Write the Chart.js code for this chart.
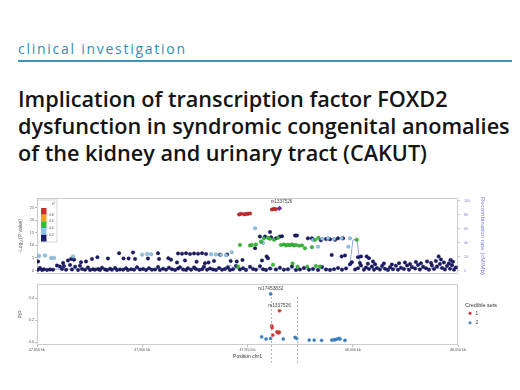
<!DOCTYPE html>
<html>
<head>
<meta charset="utf-8">
<script src="https://cdn.jsdelivr.net/npm/chart.js@4.4.1/dist/chart.umd.min.js"></script>
<style>
  html, body { margin: 0; padding: 0; background: #fff; }
  body { width: 520px; height: 390px; position: relative; overflow: hidden; font-family: "Open Sans", sans-serif; }
  #kicker { position: absolute; left: 18px; color: #2f8fb2; white-space: nowrap; }
  #rule { position: absolute; left: 18px; top: 60px; width: 494px; height: 2px; background: #3a95b8; }
  .tl { position: absolute; left: 18px; font-weight: 600; color: #141414; white-space: nowrap; }
  #top, #bot { position: absolute; left: 0; }
  #top { top: 190px; }
  #bot { top: 280px; }
</style>
</head>
<body>
<div id="kicker">clinical investigation</div>
<div id="rule"></div>
<div class="tl" id="t1">Implication of transcription factor FOXD2</div>
<div class="tl" id="t2">dysfunction in syndromic congenital anomalies</div>
<div class="tl" id="t3">of the kidney and urinary tract (CAKUT)</div>
<canvas id="top" width="520" height="90"></canvas>
<canvas id="bot" width="520" height="100"></canvas>
<script>
// axis ticks
const xTicks = [47850, 47900, 47950, 48000, 48050];
const logpTicks = [0, 5, 10, 15, 20, 25];
const recTicks = [0, 20, 40, 60, 80, 100];
const pipTicks = [0, 0.2, 0.4];
const r2Labels = ["0.8", "0.6", "0.4", "0.2"];
const credLabels = ["1", "2"];

// [position kb, -log10 P] by LD r2 band
const snpNavy = [
  [47850.5,0.3],[47851.4,1.0],[47852.4,0.2],[47853.3,0.5],[47854.8,0.2],[47856.2,0.4],[47857.6,0.3],[47859.5,2.0],
  [47860.9,1.6],[47861.9,0.6],[47862.8,1.8],[47863.8,0.3],[47865.7,2.2],[47866.6,0.4],[47868.1,1.5],[47869.5,0.2],
  [47870.4,1.9],[47871.4,0.6],[47872.8,0.3],[47874.2,1.2],[47875.2,0.2],[47876.6,0.5],[47877.6,0.3],[47879.0,0.6],
  [47879.9,0.2],[47880.9,1.1],[47882.3,0.4],[47883.3,0.2],[47884.7,0.7],[47885.6,0.3],[47887.1,1.0],[47888.0,0.2],
  [47889.4,0.4],[47890.9,0.3],[47892.3,0.9],[47893.2,0.2],[47894.7,0.5],[47896.1,0.3],[47897.5,1.3],[47898.9,0.4],
  [47900.4,0.6],[47901.8,0.2],[47903.2,0.9],[47904.6,0.3],[47906.1,0.4],[47907.5,1.4],[47908.4,0.2],[47909.9,0.7],
  [47911.3,0.3],[47912.7,1.1],[47914.1,0.5],[47915.6,0.2],[47917.0,0.8],[47917.9,1.3],[47919.4,0.4],[47920.8,0.2],
  [47921.7,0.9],[47923.2,0.3],[47924.6,1.2],[47925.5,0.6],[47927.0,0.2],[47928.4,0.5],[47929.3,1.5],[47930.8,0.3],
  [47932.2,0.8],[47933.6,0.4],[47935.0,0.2],[47936.5,1.0],[47937.9,0.3],[47939.3,0.6],[47940.7,1.2],[47941.7,0.2],
  [47943.1,0.5],[47944.5,1.8],[47946.4,0.4],[47947.9,0.9],[47949.3,0.2],[47951.2,1.5],[47952.6,0.6],[47954.0,0.3],
  [47955.9,1.7],[47957.4,0.5],[47958.8,0.2],[47960.7,0.8],[47963.5,0.4],[47965.4,1.1],[47967.3,0.3],[47969.2,0.5],
  [47971.1,1.6],[47973.0,0.2],[47974.9,0.4],[47976.8,1.0],[47979.2,0.3],[47981.1,0.6],[47983.5,0.2],[47985.4,1.4],
  [47987.3,0.4],[47989.2,0.2],[47991.1,0.5],[47993.0,1.0],[47994.9,0.3],[47996.8,0.8],[47998.7,2.5],[47999.6,3.3],
  [48001.1,0.4],[48002.5,0.9],[48003.9,2.0],[48005.3,0.3],[48006.3,1.2],[48007.7,0.6],[48009.1,1.6],[48010.1,0.3],
  [48011.5,1.0],[48012.9,0.4],[48013.9,1.8],[48015.3,0.7],[48016.7,0.2],[48017.7,1.3],[48019.1,0.5],[48020.5,1.9],
  [48021.5,0.3],[48022.9,1.1],[48024.3,0.6],[48025.8,2.0],[48026.7,0.3],[48028.1,1.4],[48029.6,0.8],[48031.0,2.2],
  [48031.9,0.4],[48033.4,1.5],[48034.8,0.9],[48036.2,0.3],[48037.6,2.0],[48038.6,0.6],[48040.0,1.6],[48041.4,2.6],
  [48042.4,1.0],[48043.8,0.4],[48044.8,1.8],[48046.2,0.7],[48047.1,2.1],[48048.1,0.3],[48049.0,1.2],
  [48003.4,3.0],[48007.2,2.7],[48010.6,2.5],[48014.8,2.8],[48018.6,2.4],[48022.0,2.9],[48024.8,3.2],[48027.2,2.6],
  [48030.0,3.4],[48032.4,2.9],[48035.3,3.6],[48037.2,3.0],[48039.5,3.8],[48041.9,4.4],[48043.3,3.2],[48045.7,2.8],
  [48047.6,3.5],[48040.8,5.6],[48046.5,4.2],
  [47850.5,3.6],[47862.4,3.0],[47864.7,4.0],[47866.2,4.6],[47867.6,4.3],[47870.9,3.3],[47873.3,3.6],[47876.1,4.6],
  [47878.7,5.3],[47883.7,4.8],[47889.0,6.9],[47891.1,4.8],[47893.5,4.8],[47895.6,7.2],[47896.6,4.6],[47902.7,4.8],
  [47907.5,6.9],[47908.0,4.6],[47912.4,4.9],[47913.7,4.3],[47916.5,3.2],[47920.3,4.0],[47925.8,3.5],[47929.8,2.9],
  [47934.1,3.8],[47944.9,3.6],[47947.6,4.2],[47956.9,4.0],[47959.1,5.6],[47959.7,4.9],[47931.5,3.2],[47942.0,3.8],
  [47917.0,6.8],[47918.9,6.7],[47920.8,6.9],[47922.7,6.6],[47924.6,6.8],[47926.5,6.7],[47928.4,6.9],[47930.3,6.6],
  [47937.0,6.3],[47940.3,6.4],
  [47953.6,8.9],[47955.9,13.5],[47958.3,13.5],[47960.7,15.3],[47961.2,13.2],[47963.5,12.8],[47965.4,13.5],[47966.4,13.6],
  [47972.6,13.9],[47973.5,13.9],[47978.7,12.8],[47980.6,12.8],[47984.9,12.0],[47987.3,12.5],[47989.2,12.4],[47991.6,12.2],
  [47993.0,12.8],[47995.4,12.8],[47990.0,6.2],[47994.7,5.6],[47996.3,6.0],[48002.5,5.3],[48003.9,5.6],[48006.6,5.6],
  [48007.7,4.9],[48009.6,3.6]
];
const snpLightBlue = [
  [47851.0,5.8],[47853.8,6.0],[47856.7,5.0],[47858.1,5.0],[47867.1,5.6],[47899.9,6.3],[47902.3,6.6],[47904.2,6.5],
  [47932.7,6.5],[47935.0,6.4],[47937.4,6.2],[47939.8,6.1],[47942.5,7.3],[47953.6,16.8],[47956.7,11.5],[47957.4,11.0],
  [47981.1,12.2],[47983.5,9.5],[47985.4,12.6],[47988.2,12.8],[47991.1,12.5],[47994.7,12.8],[47997.9,9.5],[47998.7,12.8]
];
const snpGreen = [
  [47945.5,1.6],[47946.4,10.2],[47951.2,10.0],[47952.1,10.2],[47954.0,10.4],[47956.4,11.5],[47957.8,12.8],[47959.7,13.0],
  [47960.7,12.6],[47962.1,2.3],[47962.6,12.2],[47964.5,13.0],[47965.9,10.2],[47967.3,10.4],[47968.3,10.0],[47969.2,10.3],
  [47970.2,10.1],[47971.1,10.4],[47971.4,2.8],[47972.1,10.0],[47973.0,10.2],[47973.8,1.5],[47974.5,9.9],[47975.9,10.0],
  [47977.3,8.9],[47978.4,1.5],[47980.6,9.3],[47982.1,12.2],[47982.5,1.8],[47983.7,13.0],[47984.4,1.6],[48001.9,12.2]
];
const snpRed = [
  [47946.0,22.3],[47946.9,22.6],[47948.3,22.4],[47949.3,22.5],[47950.2,22.6],[47951.2,22.7],
  [47961.6,24.3],[47962.6,24.6],[47963.5,24.4]
];
const leadSnp = [[47965.2, 24.8]];
const leadName = "rs1337526";

// [position kb, cM/Mb]
const recombRate = [
  [47850,1.5],[47860.9,2.0],[47879.9,1.8],[47903.7,2.2],[47927.4,2.0],[47938.8,2.5],[47940.3,7.5],[47942.2,7.0],
  [47943.6,2.8],[47955.9,2.2],[47974.9,2.0],[47989.2,2.4],[47997.3,3.0],[47998.7,10],[48000.1,44],[48002.0,45],
  [48003.4,10],[48004.9,3.5],[48022.4,2.5],[48041.4,3],[48044.3,4],[48045.7,16],[48047.1,15],[48048.1,4],[48050,3]
];

// [position kb, PIP] by credible set
const pipSet1 = [[47965.2,0.287],[47961.5,0.15],[47961.7,0.133],[47964.0,0.095],[47964.6,0.085],[47965.1,0.092],[47962.0,0.066]];
const pipSet2 = [
  [47961.0,0.44],[47956.7,0.05],[47958.8,0.03],[47961.0,0.035],[47967.0,0.03],[47972.6,0.045],[47973.4,0.035],
  [47979.3,0.02],[47981.7,0.02],[47985.2,0.018],[47990.0,0.02],[47991.0,0.022],[47991.8,0.025],[47992.6,0.03],
  [47993.5,0.035],[47994.0,0.03],[47996.3,0.018]
];
const pipNames = [["rs17453832", 47961.0, 0.44], ["rs1337526", 47965.2, 0.287]];
const markerLines = [47961.0, 47973.4];

const r2Colors = ["#d42a2a", "#f0a020", "#33c033", "#8ec3e6", "#1b1b6b"];
const setColors = ["#d03434", "#3b7fbf"];

const xy = arr => arr.map(p => ({ x: p[0], y: p[1] }));
const small = s => ({ size: s, family: "Liberation Sans" });

// header text fitted to the page
function fitHeader() {
  const c = document.createElement("canvas").getContext("2d");
  c.font = "600 100px 'Open Sans'";
  const F = 100 * 492 / c.measureText(document.getElementById("t2").textContent).width;
  [["t1", 107], ["t2", 134.5], ["t3", 161.5]].forEach(([id, base]) => {
    const el = document.getElementById(id);
    el.style.fontSize = F + "px";
    el.style.lineHeight = F + "px";
    el.style.top = (base - 0.888 * F) + "px";
  });
  const k = document.getElementById("kicker");
  const kf = 14;
  c.font = "400 " + kf + "px 'Open Sans'";
  const kw = c.measureText(k.textContent).width;
  k.style.fontSize = kf + "px";
  k.style.lineHeight = kf + "px";
  k.style.letterSpacing = ((167 - kw) / (k.textContent.length - 1)) + "px";
  k.style.top = (54.5 - 0.888 * kf) + "px";
}
fitHeader();

const framePlugin = {
  id: "frame",
  beforeDatasetsDraw(chart) {
    const { ctx, chartArea: a } = chart;
    ctx.save();
    ctx.strokeStyle = "#cdcdcd";
    ctx.lineWidth = 1;
    ctx.strokeRect(Math.round(a.left) + 0.5, Math.round(a.top) + 0.5, Math.round(a.right - a.left) - 1, Math.round(a.bottom - a.top) - 1);
    ctx.restore();
  }
};

const topExtras = {
  id: "topExtras",
  afterDraw(chart) {
    const { ctx, chartArea: a, scales } = chart;
    ctx.save();
    // r2 key
    const bx = a.left + 0.5, by = a.top + 2;
    ctx.fillStyle = "#fff";
    ctx.fillRect(bx, by, 19.5, 42);
    ctx.strokeStyle = "#bbb";
    ctx.lineWidth = 0.6;
    ctx.strokeRect(bx, by, 19.5, 42);
    const segH = 6.7;
    r2Colors.forEach((col, i) => {
      ctx.fillStyle = col;
      ctx.fillRect(bx + 3.5, by + 8 + i * segH, 5.5, segH);
    });
    ctx.fillStyle = "#444";
    ctx.font = "3.2px 'Liberation Sans'";
    ctx.textAlign = "left";
    ctx.textBaseline = "middle";
    r2Labels.forEach((t, i) => {
      const yy = by + 8 + (i + 1) * segH;
      ctx.beginPath();
      ctx.moveTo(bx + 9, yy); ctx.lineTo(bx + 10.5, yy);
      ctx.stroke();
      ctx.fillText(t, bx + 11.5, yy);
    });
    ctx.font = "italic 4px 'Liberation Sans'";
    ctx.fillText("r\u00b2", bx + 14.5, by + 4);
    // lead SNP name
    ctx.font = "4.6px 'Liberation Sans'";
    ctx.fillStyle = "#444";
    ctx.textAlign = "center";
    ctx.fillText(leadName, scales.x.getPixelForValue(leadSnp[0][0]) + 2, a.top + 4);
    ctx.restore();
  }
};

const botExtras = {
  id: "botExtras",
  afterDraw(chart) {
    const { ctx, chartArea: a, scales } = chart;
    ctx.save();
    // marker lines
    ctx.strokeStyle = "#9a9a9a";
    ctx.lineWidth = 0.7;
    ctx.setLineDash([2, 2]);
    markerLines.forEach(v => {
      const px = Math.round(scales.x.getPixelForValue(v)) + 0.5;
      ctx.beginPath();
      ctx.moveTo(px, 17);
      ctx.lineTo(px, 83);
      ctx.stroke();
    });
    ctx.setLineDash([]);
    // SNP names
    ctx.fillStyle = "#444";
    ctx.font = "4.8px 'Liberation Sans'";
    ctx.textAlign = "center";
    ctx.textBaseline = "middle";
    pipNames.forEach(([n, x, y]) => {
      ctx.fillText(n, scales.x.getPixelForValue(x), scales.y.getPixelForValue(y) - 5.5);
    });
    // credible set key
    ctx.textAlign = "left";
    ctx.font = "5.5px 'Liberation Sans'";
    ctx.fillStyle = "#333";
    ctx.fillText("Credible sets", 465, 25);
    credLabels.forEach((t, i) => {
      const yy = 33.3 + i * 9.4;
      ctx.fillStyle = setColors[i];
      ctx.beginPath();
      ctx.arc(470, yy, 1.5, 0, Math.PI * 2);
      ctx.fill();
      ctx.fillStyle = "#333";
      ctx.font = "4.8px 'Liberation Sans'";
      ctx.fillText(t, 475.5, yy);
    });
    ctx.restore();
  }
};

function pts(data, fill, edge, r) {
  return {
    data: xy(data), yAxisID: "y",
    backgroundColor: fill, borderColor: edge, borderWidth: 0.4,
    pointRadius: r, pointHoverRadius: r
  };
}

new Chart(document.getElementById("top"), {
  type: "scatter",
  data: {
    datasets: [
      Object.assign(pts(leadSnp, "#7a2a9a", "#3d0f52", 2.4), { pointStyle: "rectRot" }),
      pts(snpRed, r2Colors[0], "#7a1414", 1.75),
      pts(snpGreen, r2Colors[2], "#1f7a1f", 1.75),
      pts(snpLightBlue, r2Colors[3], "#5b8fb0", 1.75),
      pts(snpNavy, r2Colors[4], "#0b0b3a", 1.75),
      {
        data: xy(recombRate), yAxisID: "y2", showLine: true,
        borderColor: "#8c9be0", borderWidth: 0.9, pointRadius: 0, pointHoverRadius: 0
      }
    ]
  },
  options: {
    responsive: false,
    devicePixelRatio: 1,
    animation: false,
    layout: { padding: { top: 8, bottom: 6, left: 0, right: 0 } },
    plugins: { legend: { display: false }, tooltip: { enabled: false } },
    scales: {
      x: { type: "linear", min: 47850, max: 48050, display: false },
      y: {
        type: "linear", position: "left", min: -1.3, max: 28.9,
        afterFit(s) { s.width = 37; },
        afterBuildTicks(s) { s.ticks = logpTicks.map(v => ({ value: v })); },
        grid: { drawOnChartArea: false, tickLength: 2, color: "#888", lineWidth: 0.6 },
        border: { display: false },
        ticks: { font: small(3.8), color: "#555", padding: 1 },
        title: { display: true, text: "-Log\u2081\u2080(P value)", font: small(5), color: "#555", padding: { top: 18, bottom: 0 } }
      },
      y2: {
        type: "linear", position: "right", min: -4.7, max: 104.3,
        afterFit(s) { s.width = 62; },
        afterBuildTicks(s) { s.ticks = recTicks.map(v => ({ value: v })); },
        grid: { drawOnChartArea: false, tickLength: 2, color: "#aab", lineWidth: 0.6 },
        border: { display: false },
        ticks: { font: small(3.8), color: "#8a8ad8", padding: 4 },
        title: { display: true, text: "Recombination rate (cM/Mb)", font: small(6.2), color: "#7b7bd6", padding: { top: 34, bottom: 0 } }
      }
    }
  },
  plugins: [framePlugin, topExtras]
});

new Chart(document.getElementById("bot"), {
  type: "scatter",
  data: {
    datasets: [
      pts(pipSet1, setColors[0], setColors[0], 1.6),
      pts(pipSet2, setColors[1], setColors[1], 1.6)
    ]
  },
  options: {
    responsive: false,
    devicePixelRatio: 1,
    animation: false,
    layout: { padding: { top: 4, bottom: 0, left: 0, right: 62 } },
    plugins: { legend: { display: false }, tooltip: { enabled: false } },
    scales: {
      x: {
        type: "linear", min: 47850, max: 48050,
        afterFit(s) { s.height = 35; },
        afterBuildTicks(s) { s.ticks = xTicks.map(v => ({ value: v })); },
        grid: { drawOnChartArea: false, tickLength: 2, color: "#888", lineWidth: 0.6 },
        border: { display: false },
        ticks: { font: small(3.6), color: "#555", padding: 1, maxRotation: 0,
                 callback: v => v.toLocaleString("en-US") + " kb" },
        title: { display: true, text: "Position chr1", font: small(5), color: "#333", padding: { top: 0, bottom: 20.5 } }
      },
      y: {
        type: "linear", position: "left", min: -0.0245, max: 0.53,
        afterFit(s) { s.width = 37; },
        afterBuildTicks(s) { s.ticks = pipTicks.map(v => ({ value: v })); },
        grid: { drawOnChartArea: false, tickLength: 2, color: "#888", lineWidth: 0.6 },
        border: { display: false },
        ticks: { font: small(3.8), color: "#555", padding: 1, callback: v => v.toFixed(1) },
        title: { display: true, text: "PIP", font: small(5), color: "#555", padding: { top: 18, bottom: 0 } }
      }
    }
  },
  plugins: [framePlugin, botExtras]
});
</script>
</body>
</html>
